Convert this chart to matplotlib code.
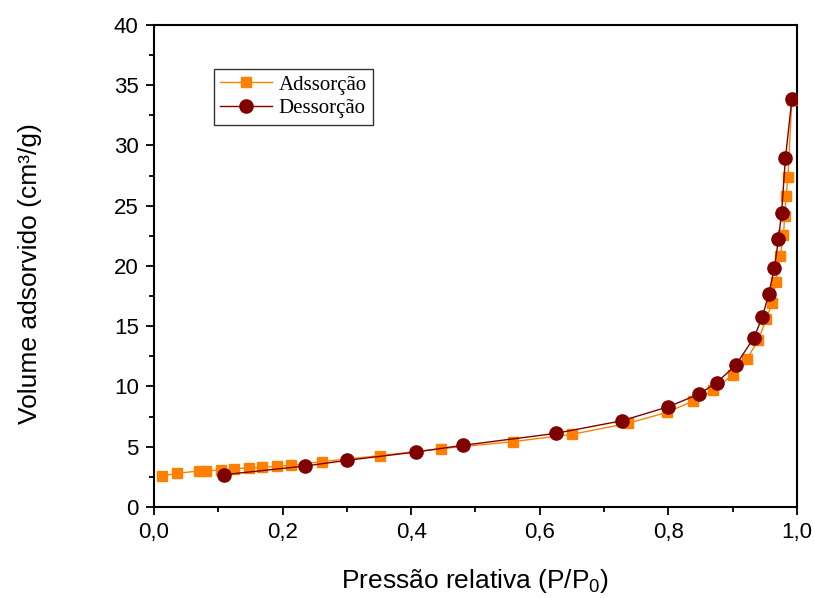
import matplotlib
matplotlib.use("Agg")
import matplotlib.pyplot as plt
from matplotlib.ticker import MultipleLocator, FuncFormatter

# Adsorption branch (P/P0, volume cm3/g)
ads_p = [0.012, 0.035, 0.0705, 0.081, 0.104, 0.125, 0.147, 0.168, 0.191, 0.213,
         0.261, 0.351, 0.447, 0.558, 0.650, 0.737, 0.798, 0.839, 0.870, 0.900,
         0.922, 0.940, 0.952, 0.961, 0.967, 0.974, 0.979, 0.981, 0.983, 0.986, 0.992]
ads_v = [2.57, 2.79, 2.99, 2.99, 3.07, 3.18, 3.24, 3.29, 3.37, 3.46,
         3.76, 4.26, 4.84, 5.42, 6.03, 6.94, 7.86, 8.80, 9.71, 10.95,
         12.28, 13.86, 15.58, 16.9, 18.7, 20.83, 22.57, 24.17, 25.83, 27.41, 33.8]

# Desorption branch
des_p = [0.992, 0.982, 0.976, 0.971, 0.965, 0.956, 0.946, 0.933, 0.905, 0.875,
         0.848, 0.800, 0.728, 0.625, 0.481, 0.407, 0.300, 0.235, 0.109]
des_v = [33.83, 28.94, 24.37, 22.2, 19.86, 17.65, 15.74, 14.05, 11.78, 10.32,
         9.38, 8.32, 7.16, 6.11, 5.12, 4.56, 3.87, 3.40, 2.68]

plt.rcParams['font.family'] = ['Liberation Sans', 'DejaVu Sans']
plt.rcParams['mathtext.fontset'] = 'custom'
plt.rcParams['mathtext.rm'] = 'Liberation Sans'
plt.rcParams['mathtext.it'] = 'Liberation Sans:italic'

fig = plt.figure(figsize=(8.14, 5.98), dpi=100)
ax = fig.add_axes([0.1892, 0.1522, 0.7899, 0.806])

ax.plot(ads_p, ads_v, color='#FF8000', lw=1.0, marker='s', ms=7.5,
        mec='#FF8000', mfc='#FF8000', label='Adssorção', zorder=3)
ax.plot(des_p, des_v, color='#800000', lw=1.0, marker='o', ms=9.5,
        mec='#800000', mfc='#800000', label='Dessorção', zorder=4)

ax.set_xlim(0, 1.0)
ax.set_ylim(0, 40)
ax.xaxis.set_major_locator(MultipleLocator(0.2))
ax.xaxis.set_minor_locator(MultipleLocator(0.1))
ax.yaxis.set_major_locator(MultipleLocator(5))
ax.yaxis.set_minor_locator(MultipleLocator(2.5))
ax.xaxis.set_major_formatter(FuncFormatter(lambda v, p: f"{v:.1f}".replace('.', ',')))

ax.tick_params(axis='both', which='major', direction='out', length=6, width=1.3,
               labelsize=16, pad=5)
ax.tick_params(axis='both', which='minor', direction='out', length=3.5, width=1.3)
for s in ax.spines.values():
    s.set_linewidth(1.5)

ax.set_xlabel('Pressão relativa (P/P$_{0}$)', fontsize=19, labelpad=17)
ax.set_ylabel('Volume adsorvido (cm³/g)', fontsize=19)
ax.yaxis.set_label_coords(-0.174, 0.484)

leg = ax.legend(loc='upper left', bbox_to_anchor=(0.093, 0.909),
                prop={'family': 'Liberation Serif', 'size': 15},
                frameon=True, fancybox=False, edgecolor='black',
                handlelength=2.5, handletextpad=0.3, borderpad=0.3,
                labelspacing=0.2, borderaxespad=0)
leg.get_frame().set_linewidth(1.0)

fig.savefig('out.png', dpi=100)
